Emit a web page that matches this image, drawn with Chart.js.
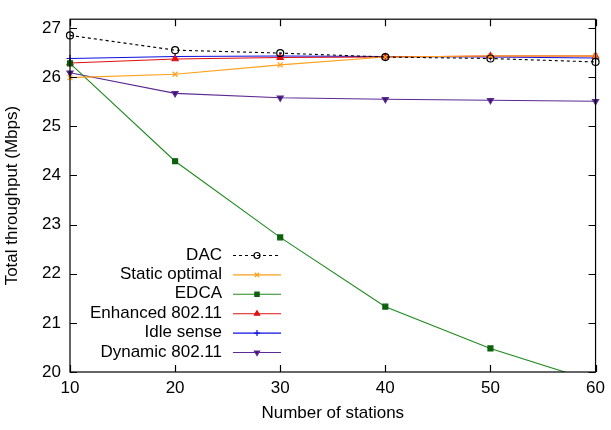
<!DOCTYPE html>
<html>
<head>
<meta charset="utf-8">
<script src="https://cdn.jsdelivr.net/npm/chart.js@4/dist/chart.umd.min.js"></script>
<style>
  html, body { margin: 0; padding: 0; background: #fff; }
  #wrap { width: 611px; height: 430px; }
</style>
</head>
<body>
<div id="wrap"><canvas id="throughput" width="611" height="430"></canvas></div>
<script>
// data
var stations = [10, 20, 30, 40, 50, 60];
var yTicks = [20, 21, 22, 23, 24, 25, 26, 27];
var dac = [26.85, 26.55, 26.49, 26.41, 26.38, 26.31];
var staticOptimal = [25.99, 26.06, 26.25, 26.41, 26.43, 26.43];
var edca = [26.28, 24.29, 22.74, 21.33, 20.48, 19.80];
var enhanced = [26.29, 26.37, 26.40, 26.41, 26.43, 26.43];
var idleSense = [26.38, 26.42, 26.43, 26.42, 26.41, 26.39];
var dynamic = [26.09, 25.67, 25.58, 25.55, 25.53, 25.51];

var FONT = '"Liberation Sans", Arial, sans-serif';
Chart.defaults.font.family = FONT;
Chart.defaults.font.size = 17;
Chart.defaults.color = '#000';

function series(label, values, color, style, extra) {
  var ds = {
    label: label,
    data: values.map(function(v, i) { return {x: stations[i], y: v}; }),
    borderColor: color,
    backgroundColor: color,
    pointBorderColor: color,
    pointBackgroundColor: color,
    borderWidth: 1.1,
    pointStyle: style,
    pointRadius: 3.5,
    pointBorderWidth: 1.2,
    tension: 0,
    fill: false,
    clip: {left: 10, right: 10, top: 10, bottom: 0}
  };
  for (var k in extra) ds[k] = extra[k];
  return ds;
}

// gnuplot-like frame, inward ticks, legend and axis titles
var gnuplotFrame = {
  id: 'gnuplotFrame',
  afterDraw: function(chart) {
    var ctx = chart.ctx, a = chart.chartArea;
    var xs = chart.scales.x, ys = chart.scales.y;
    ctx.save();
    ctx.strokeStyle = '#000';
    ctx.lineWidth = 1.2;
    ctx.strokeRect(a.left, a.top, a.right - a.left, a.bottom - a.top);
    ctx.beginPath();
    yTicks.forEach(function(t) {
      var py = Math.round(ys.getPixelForValue(t)) + 0.5;
      ctx.moveTo(a.left, py); ctx.lineTo(a.left + 7, py);
      ctx.moveTo(a.right, py); ctx.lineTo(a.right - 7, py);
    });
    stations.forEach(function(t) {
      var px = Math.round(xs.getPixelForValue(t)) + 0.5;
      ctx.moveTo(px, a.bottom); ctx.lineTo(px, a.bottom - 7);
      ctx.moveTo(px, a.top); ctx.lineTo(px, a.top + 7);
    });
    ctx.stroke();

    // legend
    ctx.font = '17px ' + FONT;
    ctx.textAlign = 'right';
    ctx.textBaseline = 'middle';
    chart.data.datasets.forEach(function(ds, i) {
      var y = 255 + i * 19.4;
      ctx.fillStyle = '#000';
      ctx.fillText(ds.label, 222, y);
      ctx.strokeStyle = ds.borderColor;
      ctx.lineWidth = ds.borderWidth;
      ctx.setLineDash(ds.borderDash || []);
      ctx.beginPath();
      ctx.moveTo(233, y + 0.5); ctx.lineTo(281, y + 0.5);
      ctx.stroke();
      ctx.setLineDash([]);
      ctx.fillStyle = ds.pointBackgroundColor;
      ctx.strokeStyle = ds.pointBorderColor;
      ctx.lineWidth = ds.pointBorderWidth;
      Chart.helpers.drawPoint(ctx, {
        pointStyle: ds.pointStyle, radius: 3,
        rotation: ds.pointRotation || 0, borderWidth: ds.pointBorderWidth
      }, 257, y + 0.5);
    });

    // axis titles
    ctx.fillStyle = '#000';
    ctx.textAlign = 'center';
    ctx.fillText('Number of stations', (a.left + a.right) / 2, 413);
    ctx.translate(12, (a.top + a.bottom) / 2);
    ctx.rotate(-Math.PI / 2);
    ctx.fillText('Total throughput (Mbps)', 0, 0);
    ctx.restore();
  }
};

new Chart('throughput', {
  type: 'line',
  data: {
    datasets: [
      series('DAC', dac, '#000000', 'circle', {borderDash: [3, 3], pointBackgroundColor: 'rgba(0,0,0,0)'}),
      series('Static optimal', staticOptimal, '#ff9f1a', 'crossRot', {}),
      series('EDCA', edca, '#1f8a1f', 'rect', {pointBackgroundColor: '#0b600b', pointBorderColor: '#0b600b'}),
      series('Enhanced 802.11', enhanced, '#e01010', 'triangle', {}),
      series('Idle sense', idleSense, '#1010e0', 'cross', {}),
      series('Dynamic 802.11', dynamic, '#5b2a92', 'triangle', {pointRotation: 180, pointBackgroundColor: '#3f1470'})
    ]
  },
  options: {
    responsive: false,
    animation: false,
    layout: {padding: {left: 0, right: 14, top: 6, bottom: 0}},
    plugins: {legend: {display: false}, tooltip: {enabled: false}},
    scales: {
      x: {
        type: 'linear', min: 10, max: 60,
        afterFit: function(s) { s.height = 58; },
        afterBuildTicks: function(s) { s.ticks = stations.map(function(v) { return {value: v}; }); },
        grid: {display: false, drawTicks: false},
        border: {display: false},
        ticks: {padding: 6, maxRotation: 0, font: {size: 17}}
      },
      y: {
        type: 'linear', min: 20, max: 27.18,
        afterFit: function(s) { s.width = 70; },
        afterBuildTicks: function(s) { s.ticks = yTicks.map(function(v) { return {value: v}; }); },
        grid: {display: false, drawTicks: false},
        border: {display: false},
        ticks: {padding: 9, font: {size: 17}}
      }
    }
  },
  plugins: [gnuplotFrame]
});
</script>
</body>
</html>
